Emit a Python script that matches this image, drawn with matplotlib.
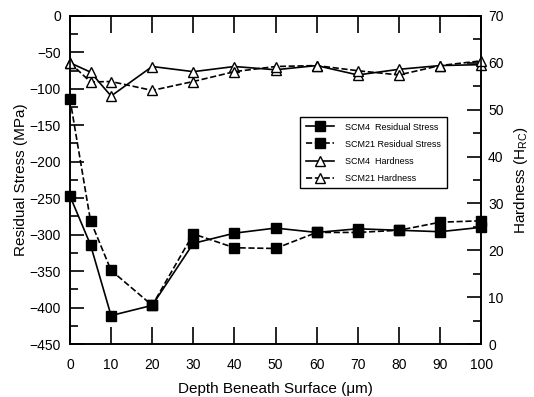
import numpy as np
import matplotlib
matplotlib.use("Agg")
import matplotlib.pyplot as plt
from matplotlib.ticker import MultipleLocator

plt.rcParams['font.family'] = ['Liberation Sans', 'DejaVu Sans']

depth = [0, 5, 10, 20, 30, 40, 50, 60, 70, 80, 90, 100]
scm4_stress = [-247, -314, -411, -397, -312, -298, -291, -297, -292, -294, -296, -290]
scm21_stress = [-114, -281, -349, -397, -299, -318, -319, -297, -297, -294, -283, -281]
scm4_hard = [60.0, 58.0, 52.9, 59.2, 58.1, 59.2, 58.5, 59.4, 57.4, 58.6, 59.4, 59.6]
scm21_hard = [60.0, 55.9, 56.0, 54.1, 56.0, 58.1, 59.2, 59.4, 58.3, 57.4, 59.4, 60.4]

fig = plt.figure(figsize=(5.34, 3.97), dpi=100)
ax = fig.add_axes([0.131, 0.1335, 0.770, 0.8265])
ax2 = ax.twinx()

l1, = ax.plot(depth, scm4_stress, 'k-', marker='s', ms=7.5, lw=1.2, clip_on=False, zorder=3)
l2, = ax.plot(depth, scm21_stress, 'k--', marker='s', ms=7.5, lw=1.2, clip_on=False, zorder=3)
l3, = ax2.plot(depth, scm4_hard, 'k-', marker='^', ms=7, mfc='white', lw=1.2, clip_on=False)
l4, = ax2.plot(depth, scm21_hard, 'k--', marker='^', ms=7, mfc='white', lw=1.2, clip_on=False)

ax.set_xlim(0, 100)
ax.set_ylim(-450, 0)
ax2.set_ylim(0, 70)
ax.xaxis.set_major_locator(MultipleLocator(10))
ax.yaxis.set_major_locator(MultipleLocator(50))
ax.yaxis.set_minor_locator(MultipleLocator(25))
ax2.yaxis.set_major_locator(MultipleLocator(10))
ax2.yaxis.set_minor_locator(MultipleLocator(5))

ax.tick_params(axis='x', which='major', direction='in', length=12, width=1.2, top=True,
               labelsize=10, pad=10)
ax.tick_params(axis='y', which='major', direction='in', length=10, width=1.2, labelsize=10, pad=6.5)
ax.tick_params(axis='y', which='minor', direction='in', length=6, width=1.2)
ax2.tick_params(axis='y', which='major', direction='in', length=10, width=1.2, labelsize=10, pad=5)
ax2.tick_params(axis='y', which='minor', direction='in', length=6, width=1.2)
for a in (ax, ax2):
    for s in a.spines.values():
        s.set_linewidth(1.2)

ax.set_xlabel('Depth Beneath Surface (\u03bcm)', fontsize=11, labelpad=7)
ax.set_ylabel('Residual Stress (MPa)', fontsize=11, labelpad=1)
ax2.set_ylabel('Hardness (H$_{\\mathregular{RC}}$)', fontsize=11, labelpad=6)

leg = ax2.legend([l1, l2, l3, l4],
                 ['SCM4  Residual Stress', 'SCM21 Residual Stress', 'SCM4  Hardness', 'SCM21 Hardness'],
                 loc='upper left', bbox_to_anchor=(0.562, 0.705), bbox_transform=fig.transFigure,
                 fontsize=6.5, handlelength=3.2, handletextpad=1.2, fancybox=False,
                 edgecolor='black', framealpha=1, borderpad=0.6, labelspacing=0.9,
                 borderaxespad=0)
leg.get_frame().set_linewidth(1.0)

fig.savefig('out.png', dpi=100)
